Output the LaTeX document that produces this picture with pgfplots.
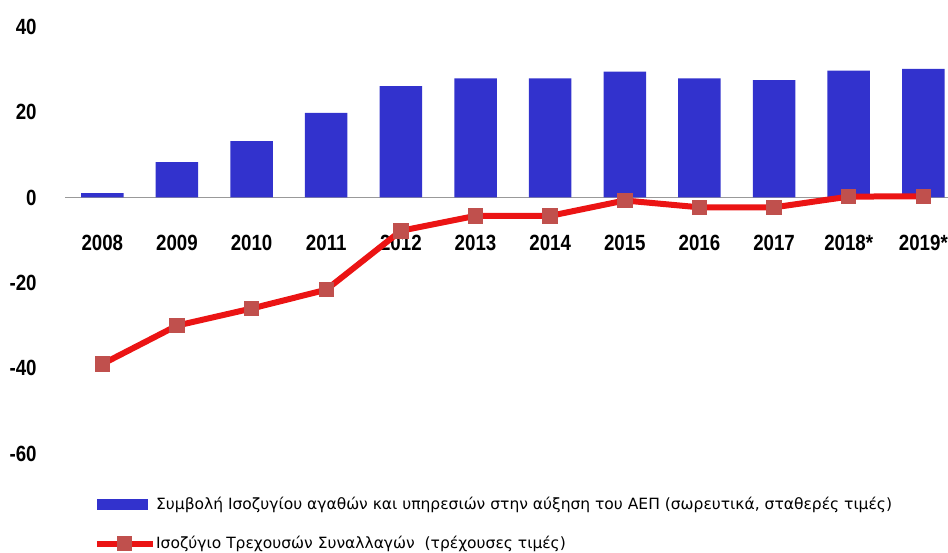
\documentclass[border=0pt]{standalone}
\usepackage{pgfplots}
\pgfplotsset{compat=1.18}
\usepackage{fontspec}
\setmainfont{Liberation Sans}
\newfontfamily\labfont[FakeStretch=0.85]{Liberation Sans}
\newfontfamily\legfont{DejaVu Sans}
\definecolor{barblue}{RGB}{50,50,205}
\definecolor{linered}{RGB}{235,20,20}
\definecolor{markred}{RGB}{192,80,77}
\tikzset{cabline/.style={linered, line width=3pt, line join=round, mark=square*, mark size=3.6pt,
  mark options={fill=markred, draw=markred, line width=0pt}}}
\begin{document}
\begin{tikzpicture}
\begin{axis}[
  at={(32.5pt,49.15pt)}, anchor=south west,
  scale only axis, width=441.5pt, height=213.5pt,
  xmin=-0.5, xmax=11.33, ymin=-60, ymax=40,
  axis x line=middle, axis y line=left,
  x axis line style={draw=gray!80, line width=0.8pt, -},
  y axis line style={draw=none},
  major tick length=0pt,
  xtick={0,...,11},
  xticklabels={2008,2009,2010,2011,2012,2013,2014,2015,2016,2017,2018*,2019*},
  xticklabel style={anchor=center, inner sep=0pt, yshift=-22.75pt, font=\labfont\bfseries\fontsize{11}{11}\selectfont},
  ytick={-60,-40,-20,0,20,40},
  yticklabels={-60,-40,-20,0,20,40},
  yticklabel style={anchor=east, inner sep=0pt, xshift=-14pt, font=\labfont\bfseries\fontsize{11}{11}\selectfont},
  clip=false,
  legend style={draw=none, fill=none, at={(axis cs:-0.12,-69.9)}, anchor=north west,
    font=\legfont\fontsize{7.75}{7.75}\selectfont, row sep=11.5pt, inner sep=0pt,
    nodes={inner sep=0.2pt}},
  legend cell align=left,
]
\addplot[ybar, bar width=21.25pt, fill=barblue, draw=none,
  legend image code/.code={\fill[barblue] (0pt,-2.75pt) rectangle (25.5pt,2.75pt);}]
  coordinates {(0,1.0) (1,8.3) (2,13.2) (3,19.8) (4,26.1) (5,27.9) (6,27.9) (7,29.5) (8,27.9) (9,27.5) (10,29.7) (11,30.1)};
\addlegendentry{Συμβολή Ισοζυγίου αγαθών και υπηρεσιών στην αύξηση του ΑΕΠ (σωρευτικά, σταθερές τιμές)}
\addplot[cabline,
  legend image code/.code={\draw[cabline, mark repeat=2, mark phase=2] plot coordinates {(0pt,0pt) (14pt,0pt) (28pt,0pt)};}]
  coordinates {(0,-39.0) (1,-30.0) (2,-26.0) (3,-21.6) (4,-7.8) (5,-4.3) (6,-4.3) (7,-0.7) (8,-2.3) (9,-2.3) (10,0.2) (11,0.3)};
\addlegendentry{Ισοζύγιο Τρεχουσών Συναλλαγών \ (τρέχουσες τιμές)}
\end{axis}
\pgfresetboundingbox
\useasboundingbox (0,0) rectangle (474pt,276pt);
\end{tikzpicture}
\end{document}
